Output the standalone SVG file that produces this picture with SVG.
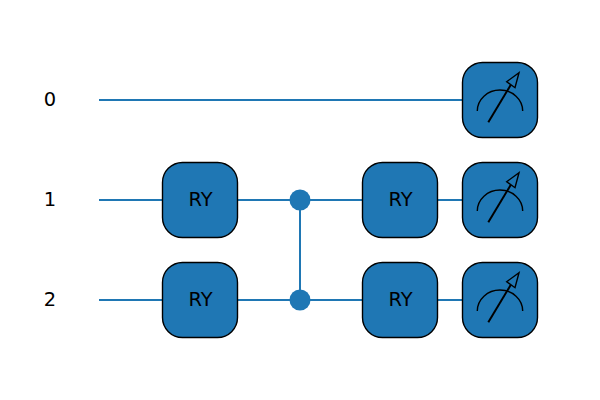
<svg xmlns="http://www.w3.org/2000/svg" width="600" height="400" viewBox="0 0 600 400">
<style>
.w{stroke:#1f77b4;stroke-width:2;fill:none}
.b{fill:#1f77b4;stroke:#000;stroke-width:1.4}
.c{fill:#1f77b4}
.a{fill:none;stroke:#000;stroke-width:1.4}
.m{fill:none;stroke:#000;stroke-width:2}
.h{fill:#1f77b4;stroke:#000;stroke-width:1.4;stroke-linejoin:miter}
text{font-family:"DejaVu Sans",sans-serif;font-size:19.44px;fill:#000;text-anchor:middle}
</style>
<defs>
<g id="gate"><rect class="b" x="-37.5" y="-37.5" width="75" height="75" rx="20" ry="20"/><text x="0.5" y="6">RY</text></g>
<g id="meter"><rect class="b" x="-37.5" y="-37.5" width="75" height="75" rx="20" ry="20"/><path class="a" d="M-22.7 11A22.7 21 0 0 1 22.7 11"/><path class="m" d="M-11.7 22.3L11 -15.5"/><path class="h" d="M19 -27.3L15 -12.3L6.7 -18.3Z"/></g>
</defs>
<g id="connectors">
<path class="w" d="M99 100H500M99 200H500M99 300H500M300 200V300"/>
</g>
<g id="label-0"><text x="50" y="106">0</text></g>
<g id="label-1"><text x="50" y="206">1</text></g>
<g id="label-2"><text x="50" y="306">2</text></g>
<g id="gate-ry-1a"><use href="#gate" x="200" y="200"/></g>
<g id="gate-ry-2a"><use href="#gate" x="200" y="300"/></g>
<g id="ctrl-1"><circle class="c" cx="300" cy="200" r="10.5"/></g>
<g id="ctrl-2"><circle class="c" cx="300" cy="300" r="10.5"/></g>
<g id="gate-ry-1b"><use href="#gate" x="400" y="200"/></g>
<g id="gate-ry-2b"><use href="#gate" x="400" y="300"/></g>
<g id="meter-0"><use href="#meter" x="500" y="100"/></g>
<g id="meter-1"><use href="#meter" x="500" y="200"/></g>
<g id="meter-2"><use href="#meter" x="500" y="300"/></g>
</svg>
